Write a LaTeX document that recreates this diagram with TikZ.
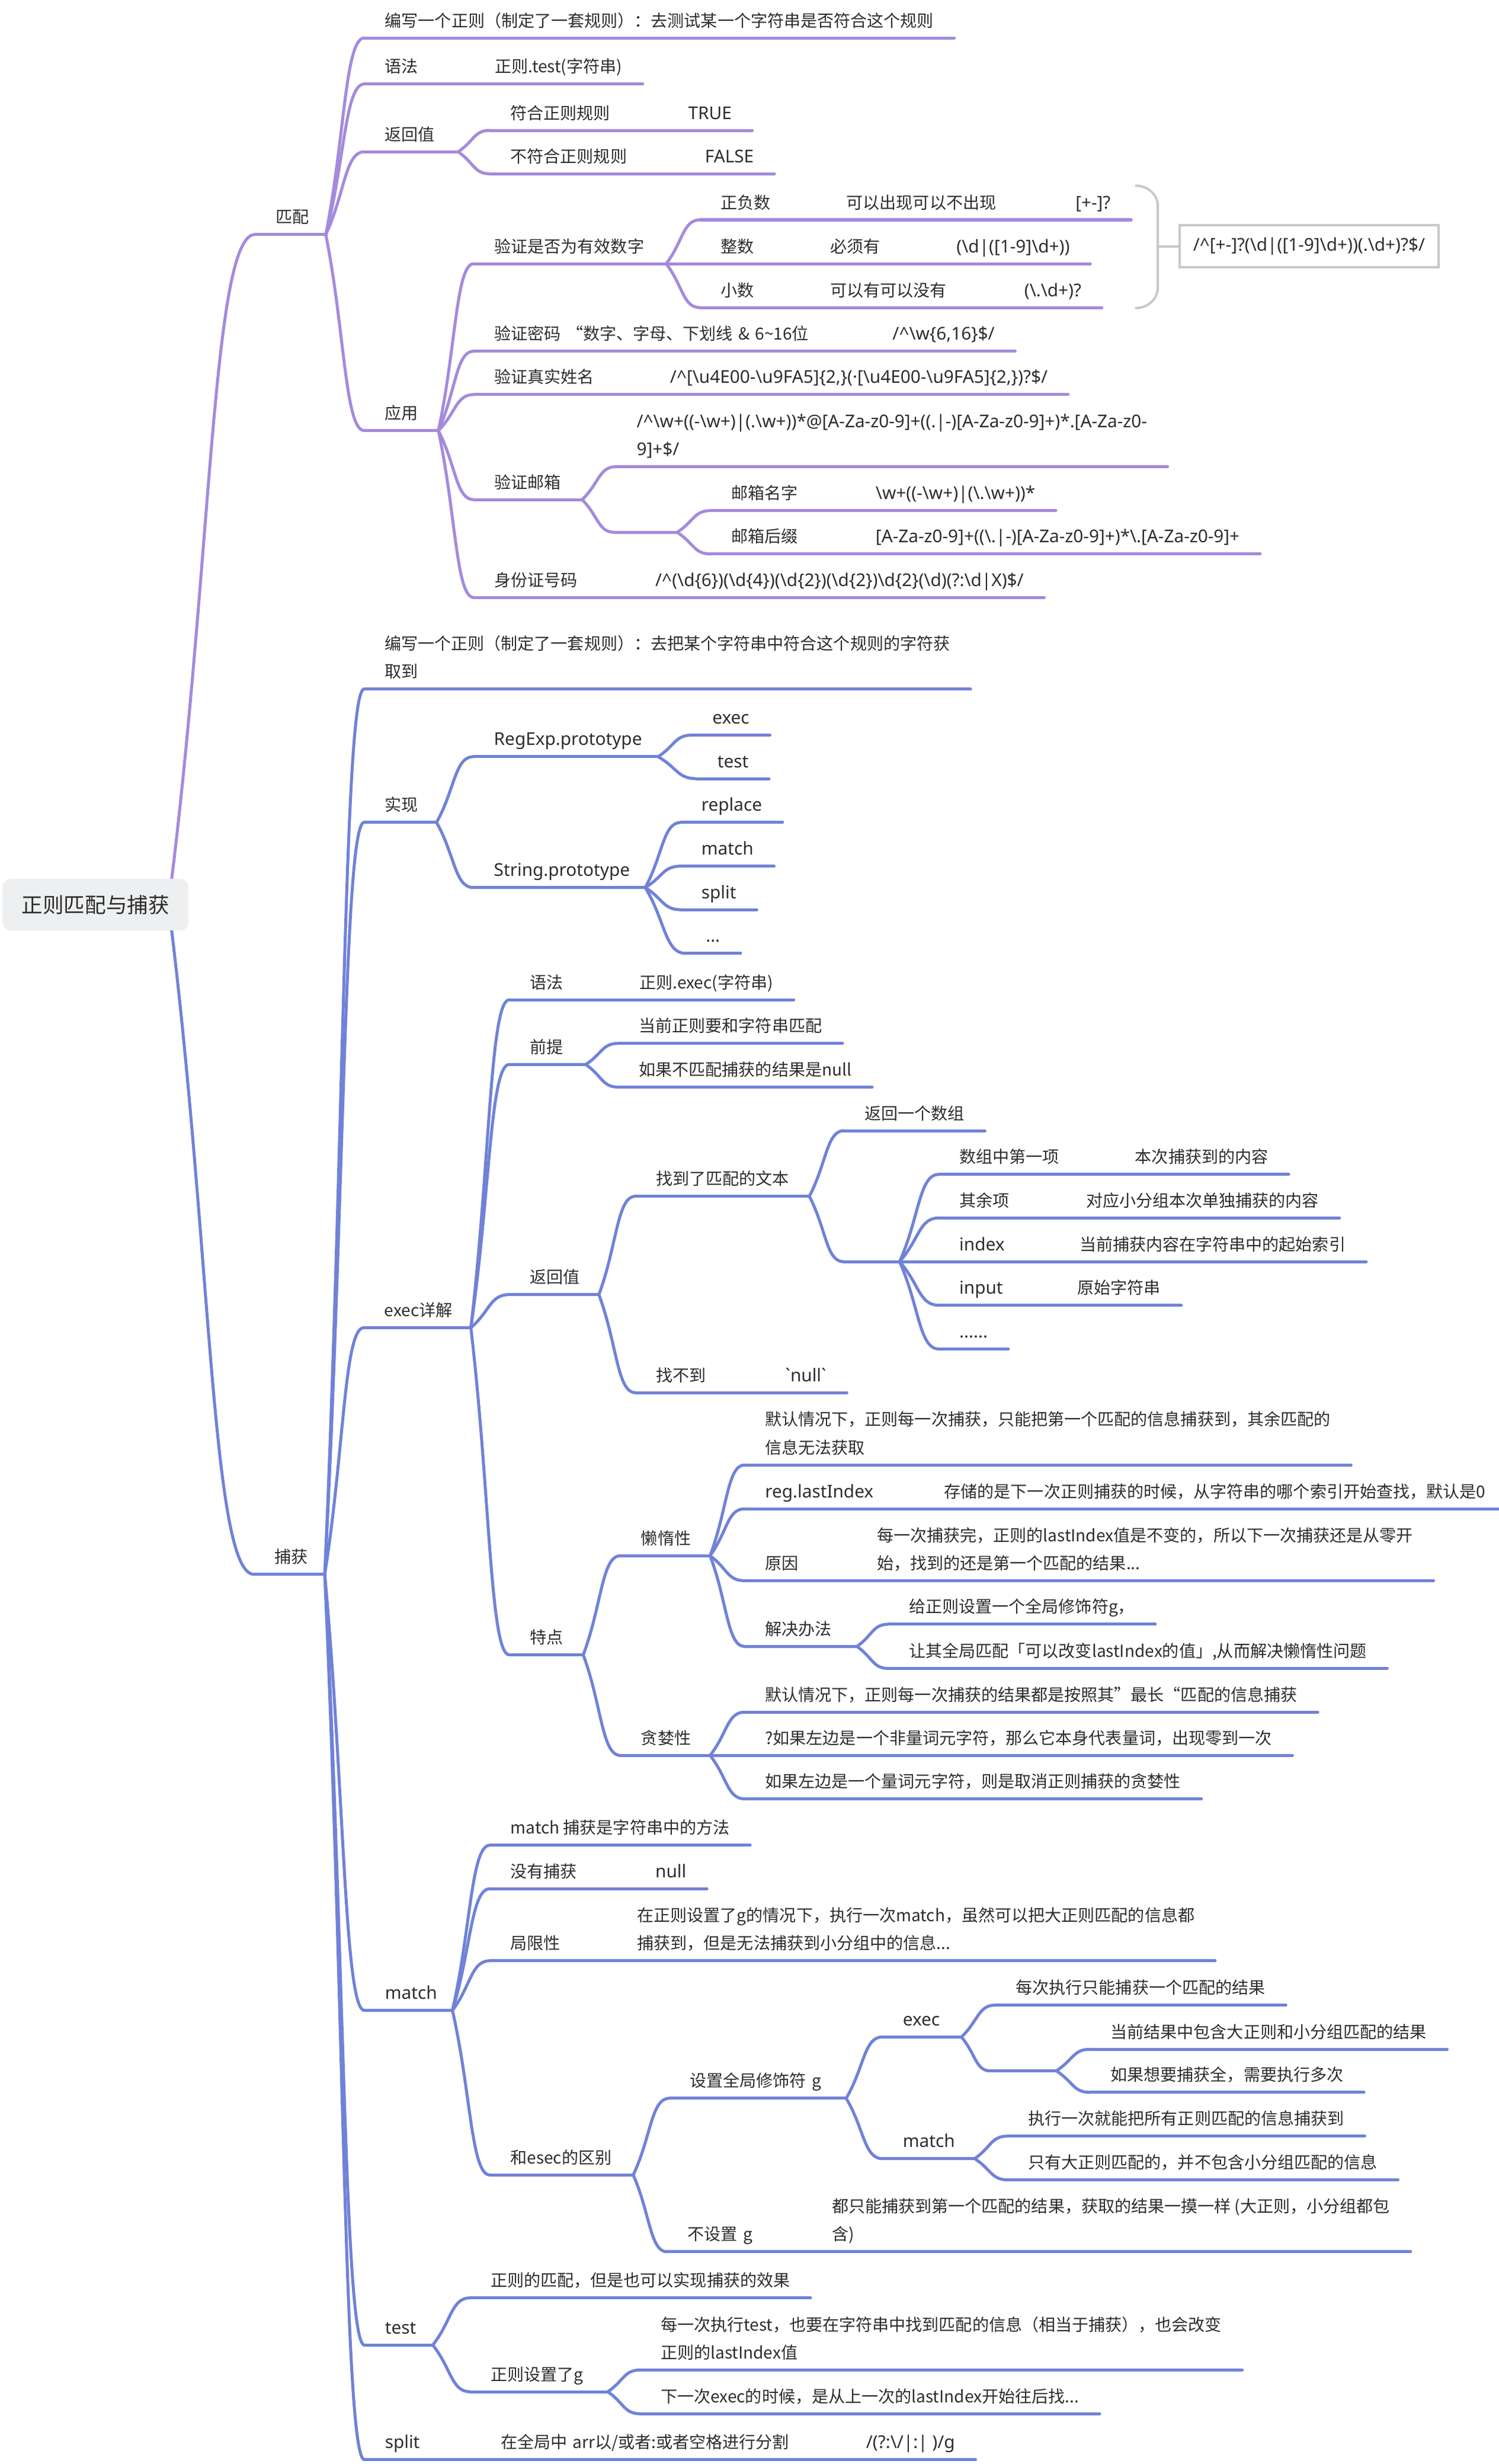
\documentclass[tikz,border=0pt]{standalone}
\usepackage{fontspec}
\setmainfont{Noto Sans CJK SC}
\newfontfamily\latin[Scale=1.06]{Noto Sans}
\usetikzlibrary{calc,backgrounds,positioning}

\definecolor{mpurple}{RGB}{164,138,221}
\definecolor{mblue}{RGB}{112,130,216}
\definecolor{ink}{RGB}{45,45,45}
\definecolor{boxgray}{RGB}{200,200,200}
\definecolor{rootfill}{RGB}{237,239,240}

\newcommand\bsl{\textbackslash}
\newcommand\crt{\textasciicircum}
\newcommand\twolines[2]{\begin{tabular}[b]{@{}l@{}}#1\\#2\end{tabular}}

\begin{document}
\begin{tikzpicture}[x=1pt,y=-1pt,
    font=\fontsize{10.65}{18}\selectfont, text=ink,
    uline/.style={draw=mpurple, line width=1.9pt, line cap=round, line join=round},
    topic/.style={anchor=south west, inner xsep=13pt, inner ysep=4pt, text depth=3pt, align=left,
      append after command={(\tikzlastnode.south west) edge[uline] (\tikzlastnode.south east)}},
    lat/.style={font=\fontsize{10.65}{18}\selectfont\latin},
    rootbox/.style={fill=rootfill, rounded corners=5pt, minimum width=119pt, minimum height=33pt,
      inner sep=0pt, font=\fontsize{13.5}{16}\selectfont},
    sumbox/.style={draw=boxgray, line width=1.5pt, minimum width=166pt, minimum height=27pt, inner sep=0pt},
    sumline/.style={draw=boxgray, line width=1.5pt, line cap=round}]
        \useasboundingbox (0,0) rectangle (960,1578);

        % root
        \node[rootbox] (root) at (61.2,579.4) {正则匹配与捕获};
        \coordinate (rs) at ([xshift=-13pt]root.east);

        % ---- matching
        \node[topic, text width=19pt] (m) at (163.3,150.2) {匹配};
        \node[topic] (h1) at (233.4,24.3) {编写一个正则（制定了一套规则）：去测试某一个字符串是否符合这个规则};
        \node[topic, text width=44.1pt] (syn1) at (233.4,53.8) {语法};
        \node[topic] (syn1b) at (syn1.south east) {正则.test(字符串)};
        \node[topic, text width=33.7pt] (ret1) at (233.4,97.2) {返回值};
        \node[topic, text width=87.4pt] (ok1) at (313.8,83.5) {符合正则规则};
        \node[topic, lat] (okv) at (ok1.south east) {TRUE};
        \node[topic, text width=98.2pt] (no1) at (313.8,111.3) {不符合正则规则};
        \node[topic, lat] (nov) at (no1.south east) {FALSE};
        \node[topic, text width=21pt] (app) at (233.4,275.8) {应用};

        % valid number
        \node[topic, text width=96.8pt] (num) at (303.5,168.9) {验证是否为有效数字};
        \node[topic, text width=54.3pt] (pn) at (448.3,140.8) {正负数};
        \node[topic, text width=120.3pt] (pn2) at (pn.south east) {可以出现可以不出现};
        \node[topic, lat] (pn3) at (pn2.south east) {[+-]?};
        \node[topic, text width=44pt] (int) at (448.3,168.9) {整数};
        \node[topic, text width=54.4pt] (int2) at (int.south east) {必须有};
        \node[topic, lat] (int3) at (int2.south east) {(\bsl d|([1-9]\bsl d+))};
        \node[topic, text width=44pt] (dec) at (448.3,197) {小数};
        \node[topic, text width=97.8pt] (dec2) at (dec.south east) {可以有可以没有};
        \node[topic, lat] (dec3) at (dec2.south east) {(\bsl.\bsl d+)?};
        % summary of the three parts
        \draw[sumline] (727.5,118.9) to[out=0,in=90] (741.6,132) -- (741.6,184) to[out=-90,in=0] (727.5,197.3);
        \coordinate (bm) at (741.6,157.9);
        \node[sumbox, lat] (sum) at (838.5,157.8) {/\crt[+-]?(\bsl d|([1-9]\bsl d+))(.\bsl d+)?\$/};
        \draw[sumline] (bm) -- (sum.west);

        % password, name, mail, id
        \node[topic, text width=228.6pt] (pwd) at (303.5,224.9) {\mbox{验证密码 “数字、字母、下划线 \& 6\textasciitilde16位}};
        \node[topic, lat] (pwd2) at (pwd.south east) {/\crt\bsl w\{6,16\}\$/};
        \node[topic, text width=86.1pt] (name) at (303.5,252.7) {验证真实姓名};
        \node[topic, lat] (name2) at (name.south east) {/\crt[\bsl u4E00-\bsl u9FA5]\{2,\}(·[\bsl u4E00-\bsl u9FA5]\{2,\})?\$/};
        \node[topic, text width=43pt] (mail) at (303.5,320) {验证邮箱};
        \node[topic, lat] (mailre) at (394.6,298.9)
          {\twolines{/\crt\bsl w+((-\bsl w+)|(.\bsl w+))*@[A-Za-z0-9]+((.|-)[A-Za-z0-9]+)*.[A-Za-z0-}{9]+\$/}};
        \node[topic, text width=13.7pt] (mailx) at (393.6,340.9) {};
        \node[topic, text width=66pt] (mn) at (455.3,327) {邮箱名字};
        \node[topic, lat] (mn2) at (mn.south east) {\bsl w+((-\bsl w+)|(\bsl.\bsl w+))*};
        \node[topic, text width=66pt] (ms) at (455.3,354.8) {邮箱后缀};
        \node[topic, lat] (ms2) at (ms.south east) {[A-Za-z0-9]+((\bsl.|-)[A-Za-z0-9]+)*\bsl.[A-Za-z0-9]+};
        \node[topic, text width=76.7pt] (id) at (303.5,382.7) {身份证号码};
        \node[topic, lat] (id2) at (id.south east)
          {/\crt(\bsl d\{6\})(\bsl d\{4\})(\bsl d\{2\})(\bsl d\{2\})\bsl d\{2\}(\bsl d)(?:\bsl d|X)\$/};

        % ---- capturing
        \begin{scope}[uline/.style={draw=mblue, line width=1.9pt, line cap=round, line join=round}]
          \node[topic, text width=19pt] (c) at (162.6,1008.2) {捕获};
          \node[topic] (h2) at (233.2,441.3)
            {\twolines{编写一个正则（制定了一套规则）：去把某个字符串中符合这个规则的字符获}{取到}};

          % implementation
          \node[topic, text width=20pt] (impl) at (233.2,526.7) {实现};
          \node[topic, lat, text width=91.9pt] (rp) at (303.2,484.6) {RegExp.prototype};
          \node[topic, lat] (rex) at (443.1,470.8) {exec};
          \node[topic, lat] (rte) at (446.3,498.7) {test};
          \node[topic, lat, text width=83.7pt] (sp) at (303.2,568.4) {String.prototype};
          \node[topic, lat] (srp) at (436.1,526.7) {replace};
          \node[topic, lat] (smt) at (436.1,554.7) {match};
          \node[topic, lat] (ssp) at (436.1,582.6) {split};
          \node[topic, lat] (sdd) at (438.9,610.5) {...};

          % exec in detail
          \node[topic, text width=42.2pt] (ed) at (233,850.3) {exec详解};
          \node[topic, text width=43.9pt] (esyn) at (326.2,640.3) {语法};
          \node[topic] (esyn2) at (esyn.south east) {正则.exec(字符串)};
          \node[topic, text width=22.6pt] (pre) at (326.2,681.7) {前提};
          \node[topic] (pre1) at (396.1,668.2) {当前正则要和字符串匹配};
          \node[topic] (pre2) at (396.1,696.2) {如果不匹配捕获的结果是null};
          \node[topic, text width=31pt] (eret) at (326.2,829.1) {返回值};
          \node[topic, text width=85pt] (fnd) at (407,766.1) {找到了匹配的文本};
          \node[topic] (arr) at (540.6,724.1) {返回一个数组};
          \node[topic, text width=9.6pt] (fx) at (540.2,808) {};
          \node[topic, text width=86.2pt] (it1) at (601.3,752.1) {数组中第一项};
          \node[topic] (it1b) at (it1.south east) {本次捕获到的内容};
          \node[topic, text width=54.8pt] (it2) at (601.3,780) {其余项};
          \node[topic] (it2b) at (it2.south east) {对应小分组本次单独捕获的内容};
          \node[topic, lat, text width=50.6pt] (it3) at (601.3,808) {index};
          \node[topic] (it3b) at (it3.south east) {当前捕获内容在字符串中的起始索引};
          \node[topic, lat, text width=49.3pt] (it4) at (601.3,835.9) {input};
          \node[topic] (it4b) at (it4.south east) {原始字符串};
          \node[topic, lat] (it5) at (601.3,863.9) {......};
          \node[topic, text width=56.5pt] (nf) at (407,891.9) {找不到};
          \node[topic, lat] (nf2) at (nf.south east) {\textasciigrave null\textasciigrave};

          % features
          \node[topic, text width=21pt] (feat) at (326.2,1059.8) {特点};
          \node[topic, text width=31pt] (lazy) at (397.4,996.3) {懒惰性};
          \node[topic] (lz1) at (476.9,938.2)
            {\twolines{默认情况下，正则每一次捕获，只能把第一个匹配的信息捕获到，其余匹配的}{信息无法获取}};
          \node[topic, lat, text width=88.3pt] (lz2) at (476.9,966.3) {reg.lastIndex};
          \node[topic] (lz2b) at (lz2.south east) {存储的是下一次正则捕获的时候，从字符串的哪个索引开始查找，默认是0};
          \node[topic, text width=45.2pt] (lz3) at (476.9,1012.3) {原因};
          \node[topic] (lz3b) at (lz3.south east)
            {\twolines{每一次捕获完，正则的lastIndex值是不变的，所以下一次捕获还是从零开}{始，找到的还是第一个匹配的结果...}};
          \node[topic, text width=45.6pt] (lz4) at (476.9,1054.4) {解决办法};
          \node[topic] (fix1) at (569.1,1040.2) {给正则设置一个全局修饰符g，};
          \node[topic] (fix2) at (569.1,1068.5) {让其全局匹配「可以改变lastIndex的值」,从而解决懒惰性问题};
          \node[topic, text width=31pt] (greedy) at (397.4,1124.2) {贪婪性};
          \node[topic] (gr1) at (476.9,1096.5) {默认情况下，正则每一次捕获的结果都是按照其”最长“匹配的信息捕获};
          \node[topic] (gr2) at (476.9,1124.2) {?如果左边是一个非量词元字符，那么它本身代表量词，出现零到一次};
          \node[topic] (gr3) at (476.9,1152) {如果左边是一个量词元字符，则是取消正则捕获的贪婪性};

          % match
          \node[topic, lat, text width=30pt] (mt) at (233.4,1287.5) {match};
          \node[topic] (mt1) at (313.8,1181.7) {match 捕获是字符串中的方法};
          \node[topic, text width=66.4pt] (mt2) at (313.8,1209.6) {没有捕获};
          \node[topic, lat] (mt2b) at (mt2.south east) {null};
          \node[topic, text width=54.8pt] (mt3) at (313.8,1255.7) {局限性};
          \node[topic] (mt3b) at (mt3.south east)
            {\twolines{在正则设置了g的情况下，执行一次match，虽然可以把大正则匹配的信息都}{捕获到，但是无法捕获到小分组中的信息...}};
          \node[topic, text width=65.4pt] (mt4) at (313.8,1392.9) {和esec的区别};
          \node[topic, text width=86.9pt] (gset) at (428.7,1343.8) {\mbox{设置全局修饰符 g}};
          \node[topic, lat, text width=24.3pt] (gex) at (565.1,1304.5) {exec};
          \node[topic] (gex1) at (637.5,1284.1) {每次执行只能捕获一个匹配的结果};
          \node[topic, text width=16pt] (gexx) at (634.2,1326.2) {};
          \node[topic] (gex2) at (698.2,1312.4) {当前结果中包含大正则和小分组匹配的结果};
          \node[topic] (gex3) at (698.2,1340) {如果想要捕获全，需要执行多次};
          \node[topic, lat, text width=32.8pt] (gmt) at (565.1,1382.4) {match};
          \node[topic] (gmt1) at (645.4,1368) {执行一次就能把所有正则匹配的信息捕获到};
          \node[topic] (gmt2) at (645.4,1396) {只有大正则匹配的，并不包含小分组匹配的信息};
          \node[topic, text width=66pt] (gno) at (427.3,1442.1) {\mbox{不设置 g}};
          \node[topic] (gno2) at (gno.south east)
            {\twolines{都只能捕获到第一个匹配的结果，获取的结果一摸一样 (大正则，小分组都包}{含)}};

          % test and split
          \node[topic, lat, text width=17.4pt] (tst) at (233.4,1501.8) {test};
          \node[topic] (ts1) at (301.1,1471.6) {正则的匹配，但是也可以实现捕获的效果};
          \node[topic, text width=61.8pt] (ts2) at (301.1,1531.7) {正则设置了g};
          \node[topic] (ts2a) at (410,1517.8)
            {\twolines{每一次执行test，也要在字符串中找到匹配的信息（相当于捕获），也会改变}{正则的lastIndex值}};
          \node[topic] (ts2b) at (410,1545.8) {下一次exec的时候，是从上一次的lastIndex开始往后找...};
          \node[topic, lat, text width=47.8pt] (spl) at (233.4,1575.2) {split};
          \node[topic, text width=207.6pt] (spl2) at (spl.south east) {\mbox{在全局中 arr以/或者:或者空格进行分割}};
          \node[topic, lat] (spl3) at (spl2.south east) {/(?:\bsl/|:| )/g};
        \end{scope}

        % branches, behind the nodes
        \begin{scope}[on background layer]
          \draw[uline] (rs) .. controls ($(rs)!.5!(m.south west)$) and ($(m.south west)!.5!(m.south west-|rs)$) .. (m.south west);
          \draw[uline, draw=mblue] (rs) .. controls ($(rs)!.5!(c.south west)$) and ($(c.south west)!.5!(c.south west-|rs)$) .. (c.south west);

          \foreach \a/\b in {m/h1,m/syn1,m/ret1,m/app,ret1/ok1,ret1/no1,app/num,app/pwd,app/name,app/mail,app/id,
                             num/pn,num/int,num/dec,mail/mailre,mail/mailx,mailx/mn,mailx/ms} {
            \draw[uline] (\a.south east) .. controls ($(\a.south east)!.5!(\b.south west)$)
              and ($(\b.south west)!.5!(\b.south west-|\a.south east)$) .. (\b.south west);
          }
          \foreach \a/\b in {c/h2,c/impl,c/ed,c/mt,c/tst,c/spl,impl/rp,impl/sp,rp/rex,rp/rte,
                             sp/srp,sp/smt,sp/ssp,sp/sdd,ed/esyn,ed/pre,ed/eret,ed/feat,pre/pre1,pre/pre2,
                             eret/fnd,eret/nf,fnd/arr,fnd/fx,fx/it1,fx/it2,fx/it3,fx/it4,fx/it5,
                             feat/lazy,feat/greedy,lazy/lz1,lazy/lz2,lazy/lz3,lazy/lz4,lz4/fix1,lz4/fix2,
                             greedy/gr1,greedy/gr2,greedy/gr3,mt/mt1,mt/mt2,mt/mt3,mt/mt4,mt4/gset,mt4/gno,
                             gset/gex,gset/gmt,gex/gex1,gex/gexx,gexx/gex2,gexx/gex3,gmt/gmt1,gmt/gmt2,
                             tst/ts1,tst/ts2,ts2/ts2a,ts2/ts2b} {
            \draw[uline, draw=mblue] (\a.south east) .. controls ($(\a.south east)!.5!(\b.south west)$)
              and ($(\b.south west)!.5!(\b.south west-|\a.south east)$) .. (\b.south west);
          }
        \end{scope}
\end{tikzpicture}
\end{document}
